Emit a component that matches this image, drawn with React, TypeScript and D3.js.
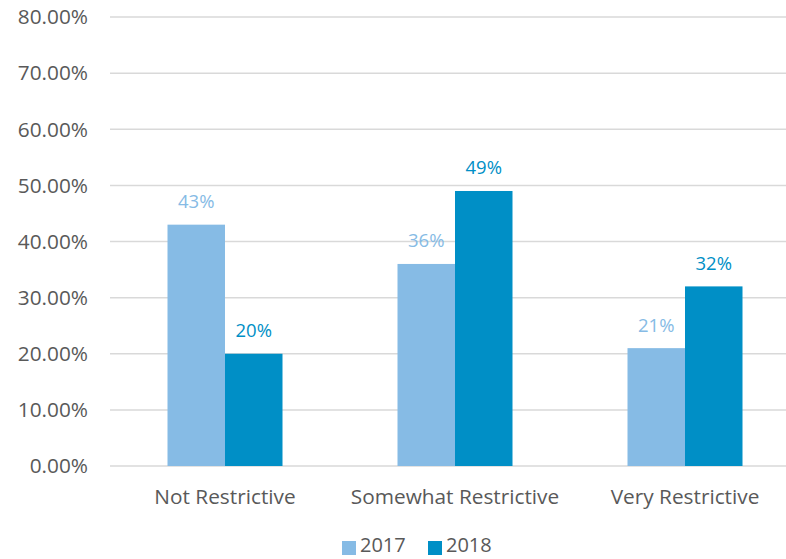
import React from "react";
import * as d3 from "d3";

const categories = ["Not Restrictive", "Somewhat Restrictive", "Very Restrictive"];
const seriesNames = ["2017", "2018"];
const values2017 = [43, 36, 21];
const values2018 = [20, 49, 32];
const yTicks = [0, 10, 20, 30, 40, 50, 60, 70, 80];

const colors = ["#86bbe5", "#008fc6"];
const labelColors = ["#86bbe5", "#008fc6"];
const font = "'Open Sans', sans-serif";

export default function App() {
  const width = 786;
  const height = 559;
  const left = 110;
  const right = 800;
  const top = 17;
  const bottom = 466;

  const x = d3.scaleBand<string>().domain(categories).range([left, right]).paddingInner(0).paddingOuter(0);
  const y = d3.scaleLinear().domain([0, 80]).range([bottom, top]);
  const groupW = x.bandwidth() * 0.5;
  const sub = d3.scaleBand<string>().domain(seriesNames).range([0, groupW]);
  const series = [values2017, values2018];

  return (
    <svg width={width} height={height} style={{ position: "absolute", left: 0, top: 0, background: "#fff" }}>
      {yTicks.map((t) => (
        <g key={t}>
          <line x1={left} x2={width} y1={y(t)} y2={y(t)} stroke="#d9d9d9" strokeWidth={1.5} />
          <text x={88} y={y(t)} dy="0.35em" textAnchor="end" fontFamily={font} fontSize={20.8} fill="#595959">
            {t.toFixed(2) + "%"}
          </text>
        </g>
      ))}
      {categories.map((c, i) => {
        const gx = (x(c) as number) + (x.bandwidth() - groupW) / 2;
        return (
          <g key={c}>
            {seriesNames.map((s, j) => {
              const v = series[j][i];
              const bx = gx + (sub(s) as number);
              return (
                <g key={s}>
                  <rect x={bx} y={y(v)} width={sub.bandwidth()} height={bottom - y(v)} fill={colors[j]} />
                  <text
                    x={bx + sub.bandwidth() / 2}
                    y={y(v) - 23}
                    dy="0.35em"
                    textAnchor="middle"
                    fontFamily={font}
                    fontSize={18.5}
                    fill={labelColors[j]}
                  >
                    {v + "%"}
                  </text>
                </g>
              );
            })}
            <text
              x={(x(c) as number) + x.bandwidth() / 2}
              y={497}
              dy="0.35em"
              textAnchor="middle"
              fontFamily={font}
              fontSize={20.8}
              fill="#595959"
            >
              {c}
            </text>
          </g>
        );
      })}
      {seriesNames.map((s, j) => {
        const lx = 342 + j * 86;
        return (
          <g key={s}>
            <rect x={lx} y={541} width={14} height={14} fill={colors[j]} />
            <text x={lx + 18} y={545} dy="0.35em" fontFamily={font} fontSize={20} fill="#595959">
              {s}
            </text>
          </g>
        );
      })}
    </svg>
  );
}
